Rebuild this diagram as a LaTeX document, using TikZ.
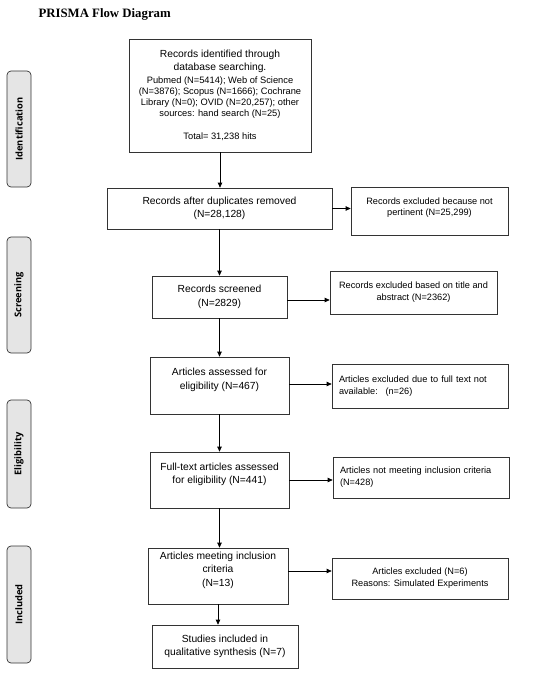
\documentclass[tikz,border=0pt]{standalone}
\usepackage{fontspec}
\setmainfont{Liberation Sans}
\newfontfamily\titlefont{Liberation Serif}
\newfontfamily\sidefont{Open Sans}
\usetikzlibrary{arrows.meta,calc}
\begin{document}
\begin{tikzpicture}[x=1pt,y=-1pt,
  box/.style={draw=black!80,line width=0.7pt,rectangle,align=center,inner sep=2pt,font=\fontsize{10.3}{13.5}\selectfont},
  sbox/.style={box,font=\fontsize{9.2}{11.8}\selectfont},
  side/.style={draw=black!80,line width=0.7pt,rounded corners=4pt,fill=black!10,minimum height=24pt,rotate=90,font=\sidefont\bfseries\fontsize{9.3}{10}\selectfont},
  arr/.style={line width=0.7pt,-{Triangle[length=5pt,width=4.5pt]}}]
\useasboundingbox (0,0) rectangle (550,674);
\node[anchor=base west,font=\titlefont\bfseries\fontsize{12.8}{14}\selectfont] (title) at (35,18) {PRISMA Flow Diagram};
% side labels
\node[side,minimum width=116pt] (sid) at (19,129) {Identification};
\node[side,minimum width=116pt] (ssc) at (19,295) {Screening};
\node[side,minimum width=108pt] (sel) at (19,454) {Eligibility};
\node[side,minimum width=117pt] (sin) at (19,604.5) {Included};
% main boxes
\node[box,minimum width=182pt,minimum height=113pt,font=\fontsize{9.3}{11}\selectfont] (b1) at (220,95.5) {{\fontsize{10.3}{13}\selectfont Records identified through}\\[2pt]
 {\fontsize{10.3}{13}\selectfont database searching.}\\[1.5pt]
 Pubmed (N=5414); Web of Science\\
 (N=3876); Scopus (N=1666); Cochrane\\
 Library (N=0); OVID (N=20,257); other\\
 sources: hand search (N=25)\\[12pt]
 Total= 31,238 hits};
\node[box,minimum width=225pt,minimum height=41pt] (b2) at (219.5,208.5) {Records after duplicates removed\\(N=28,128)};
\node[box,minimum width=135pt,minimum height=42pt] (b3) at (219.5,297) {Records screened\\(N=2829)};
\node[box,minimum width=139pt,minimum height=57pt] (b4) at (219.5,385.5) {Articles assessed for\\eligibility (N=467)\\\mbox{}};
\node[box,minimum width=139pt,minimum height=56pt] (b5) at (219.5,480) {Full-text articles assessed\\for eligibility (N=441)\\\mbox{}};
\node[box,minimum width=140pt,minimum height=56pt] (b6) at (218,576) {Articles meeting inclusion\\criteria\\(N=13)\\\mbox{}};
\node[box,minimum width=146pt,minimum height=43pt] (b7) at (225,646.5) {Studies included in\\qualitative synthesis (N=7)};
% exclusion boxes
\node[sbox,minimum width=157pt,minimum height=48pt] (e1) at (429.5,211) {Records excluded because not\\pertinent (N=25,299)\\[-3pt]\mbox{}};
\node[sbox,minimum width=167pt,minimum height=43pt] (e2) at (413.5,292.5) {Records excluded based on title and\\abstract (N=2362)};
\node[sbox,minimum width=176pt,minimum height=44pt,text width=162pt,align=left] (e3) at (420,386) {Articles excluded due to full text not\\available:~ (n=26)};
\node[sbox,minimum width=176pt,minimum height=41pt,text width=162pt,align=left] (e4) at (421,477.5) {Articles not meeting inclusion criteria\\(N=428)};
\node[sbox,minimum width=176pt,minimum height=41pt] (e5) at (420,578.5) {Articles excluded (N=6)\\Reasons: Simulated Experiments};
% arrows
\draw[arr] (b1.south) -- (b1.south |- b2.north);
\draw[arr] (b2.south) -- (b2.south |- b3.north);
\draw[arr] (b3.south) -- (b3.south |- b4.north);
\draw[arr] (b4.south) -- (b4.south |- b5.north);
\draw[arr] (b5.south) -- (b5.south |- b6.north);
\draw[arr] (b6.south) -- (b6.south |- b7.north);
\draw[arr] (b2.east) -- (b2.east -| e1.west);
\draw[arr] ([yshift=-3pt]b3.east) -- ([yshift=-3pt]b3.east -| e2.west);
\draw[arr] ([yshift=1.5pt]b4.east) -- ([yshift=1.5pt]b4.east -| e3.west);
\draw[arr] (b5.east) -- (b5.east -| e4.west);
\draw[arr] ([yshift=5pt]b6.east) -- ([yshift=5pt]b6.east -| e5.west);
\end{tikzpicture}
\end{document}
